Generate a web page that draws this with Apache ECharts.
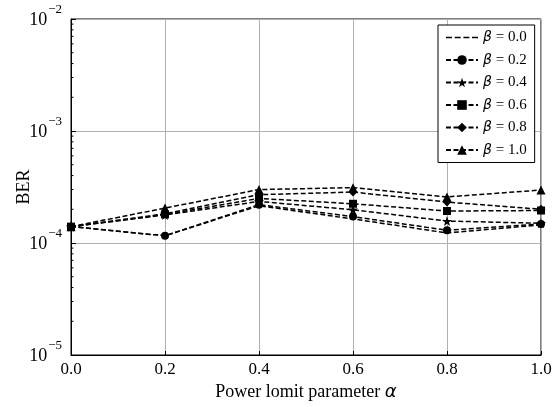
<!DOCTYPE html>
<html>
<head>
<meta charset="utf-8">
<script src="https://cdn.jsdelivr.net/npm/echarts@6/dist/echarts.min.js"></script>
<style>
  html, body { margin: 0; padding: 0; background: #fff; }
  #chart { width: 555px; height: 407px; }
</style>
</head>
<body>
<div id="chart"></div>
<script>
// power limit parameter alpha (x axis)
const alphaValues = [0.0, 0.2, 0.4, 0.6, 0.8, 1.0]
const betaNames = ['β = 0.0', 'β = 0.2', 'β = 0.4', 'β = 0.6', 'β = 0.8', 'β = 1.0']

// BER, one array per beta
const berBeta00 = [1.40e-4, 1.16e-4, 2.15e-4, 1.64e-4, 1.23e-4, 1.45e-4]
const berBeta02 = [1.40e-4, 1.16e-4, 2.20e-4, 1.72e-4, 1.30e-4, 1.48e-4]
const berBeta04 = [1.40e-4, 1.78e-4, 2.35e-4, 1.98e-4, 1.57e-4, 1.50e-4]
const berBeta06 = [1.40e-4, 1.80e-4, 2.50e-4, 2.24e-4, 1.93e-4, 1.95e-4]
const berBeta08 = [1.40e-4, 1.82e-4, 2.70e-4, 2.85e-4, 2.32e-4, 2.00e-4]
const berBeta10 = [1.40e-4, 2.05e-4, 3.00e-4, 3.12e-4, 2.58e-4, 2.97e-4]

const yDecades = [1e-5, 1e-4, 1e-3, 1e-2]

const starPath = 'path://M50,0 L61.8,35.1 L98.1,35.1 L68.8,56.8 L79.4,91.5 L50,70 L20.6,91.5 L31.2,56.8 L1.9,35.1 L38.2,35.1 Z'
const dashIcon = 'path://M0,0L6,0L6,1.5L0,1.5Z M8.7,0L14.7,0L14.7,1.5L8.7,1.5Z M17.4,0L23.4,0L23.4,1.5L17.4,1.5Z M26,0L32,0L32,1.5L26,1.5Z'
const markers = ['none', 'circle', starPath, 'rect', 'diamond', 'triangle']
const markerSizes = [0, 8, 10, 8, 9, 9]
const berSets = [berBeta00, berBeta02, berBeta04, berBeta06, berBeta08, berBeta10]

const serif = 'Liberation Serif'

const chart = echarts.init(document.getElementById('chart'))

const series = berSets.map((ber, i) => ({
  name: betaNames[i],
  type: 'line',
  data: alphaValues.map((a, k) => [a, ber[k]]),
  symbol: markers[i],
  symbolSize: markerSizes[i],
  showSymbol: i > 0,
  color: '#000',
  itemStyle: { color: '#000' },
  lineStyle: { color: '#000', width: 1.5, type: [5, 2.5] },
  emphasis: { disabled: true },
  animation: false
}))

const option = {
  animation: false,
  backgroundColor: '#fff',
  grid: {
    left: 71, right: 14, top: 19, bottom: 52,
    outerBoundsMode: 'none',
    show: true, borderColor: '#000', borderWidth: 1
  },
  legend: {
    orient: 'vertical',
    left: 438, top: 25,
    padding: [5, 8, 5, 7],
    itemWidth: 32, itemHeight: 12, itemGap: 7.5,
    borderColor: '#000', borderWidth: 1, borderRadius: 0,
    backgroundColor: '#fff',
    data: betaNames.map((n, i) => (i === 0 ? { name: n, icon: dashIcon } : { name: n })),
    formatter: name => '{i|β}{t|' + name.slice(1) + '}',
    textStyle: {
      fontFamily: serif, fontSize: 15, color: '#000',
      rich: {
        i: { fontFamily: 'DejaVu Sans', fontStyle: 'italic', fontSize: 14, color: '#000' },
        t: { fontFamily: serif, fontSize: 15, color: '#000' }
      }
    }
  },
  xAxis: {
    type: 'value',
    min: 0, max: 1, interval: 0.2,
    name: '{t|Power lomit parameter }{a|α}',
    nameLocation: 'middle', nameGap: 27,
    nameTextStyle: {
      rich: {
        t: { fontFamily: serif, fontSize: 18, color: '#000' },
        a: { fontFamily: 'DejaVu Sans', fontStyle: 'italic', fontSize: 18, color: '#000' }
      }
    },
    axisLine: { show: true, lineStyle: { color: '#000', width: 1 } },
    axisTick: { show: true, inside: true, length: 4, lineStyle: { color: '#000' } },
    axisLabel: {
      formatter: v => v.toFixed(1),
      fontFamily: serif, fontSize: 17, color: '#000', margin: 6
    },
    splitLine: { show: true, lineStyle: { color: '#b0b0b0', width: 1 } }
  },
  yAxis: {
    type: 'log', logBase: 10,
    min: 1e-5, max: 1e-2,
    name: 'BER',
    nameLocation: 'middle', nameGap: 38, nameRotate: 90,
    nameMoveOverlap: false,
    nameTextStyle: { fontFamily: serif, fontSize: 18, color: '#000' },
    axisLine: { show: true, lineStyle: { color: '#000', width: 1 } },
    axisTick: { show: true, inside: true, length: 5, lineStyle: { color: '#000' } },
    axisLabel: {
      margin: 9,
      formatter: v => {
        const e = Math.round(Math.log10(v))
        return '{b|10}{s|' + (e < 0 ? '\u2212' : '') + Math.abs(e) + '}'
      },
      rich: {
        b: { fontFamily: serif, fontSize: 18, color: '#000', verticalAlign: 'bottom', lineHeight: 20 },
        s: { fontFamily: serif, fontSize: 13, color: '#000', verticalAlign: 'bottom', lineHeight: 20, padding: [0, 0, 13, 1] }
      }
    },
    splitLine: { show: true, lineStyle: { color: '#b0b0b0', width: 1 } }
  },
  series
}

chart.setOption(option)

// matplotlib-style minor ticks on the log axis (2..9 per decade), inward on the left spine
const minorTicks = []
const x0 = chart.convertToPixel({ xAxisIndex: 0 }, 0)
yDecades.slice(0, -1).forEach(d => {
  for (let k = 2; k <= 9; k++) {
    const y = chart.convertToPixel({ yAxisIndex: 0 }, d * k)
    minorTicks.push({
      type: 'line',
      shape: { x1: x0, y1: y, x2: x0 + 2.5, y2: y },
      style: { stroke: '#000', lineWidth: 1 },
      silent: true
    })
  }
})
chart.setOption({ graphic: minorTicks })
</script>
</body>
</html>
